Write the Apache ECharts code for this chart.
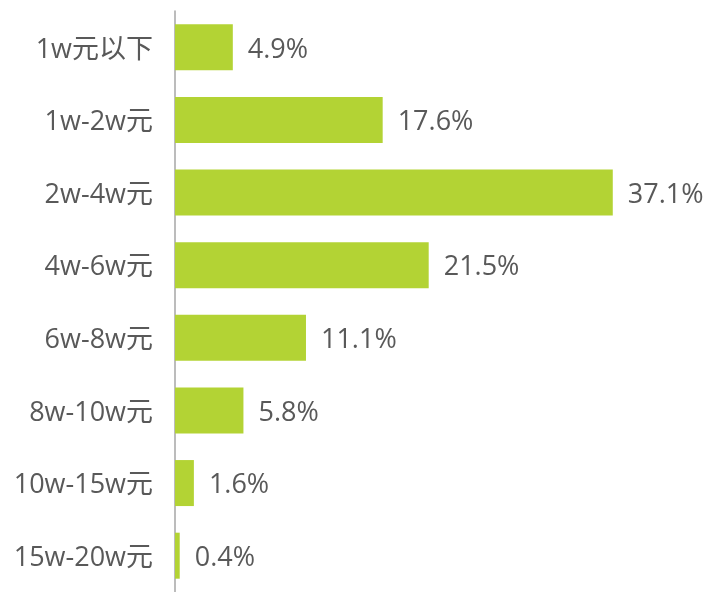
<!DOCTYPE html>
<html>
<head>
<meta charset="utf-8">
<script src="https://cdn.jsdelivr.net/npm/echarts@6/dist/echarts.min.js"></script>
<style>
  html, body { margin: 0; padding: 0; background: #fff; }
  #chart { width: 708px; height: 592px; }
</style>
</head>
<body>
<div id="chart"></div>
<script>
// 收入区间 (从上到下)
const categories = ['1w元以下', '1w-2w元', '2w-4w元', '4w-6w元', '6w-8w元', '8w-10w元', '10w-15w元', '15w-20w元'];
const shares = [4.9, 17.6, 37.1, 21.5, 11.1, 5.8, 1.6, 0.4];

const myChart = echarts.init(document.getElementById('chart'));
const font = "'Open Sans', 'Noto Sans CJK SC', sans-serif";
const txt = { color: '#595959', fontSize: 27, fontFamily: font, padding: [5, 0, 0, 0] };

const option = {
  animation: false,
  grid: { left: 175, top: 11, width: 531, height: 584 },
  xAxis: {
    type: 'value',
    min: 0,
    max: 45,
    show: false
  },
  yAxis: {
    type: 'category',
    inverse: true,
    data: categories,
    axisLine: { lineStyle: { color: '#a6a6a6', width: 1.5 } },
    axisTick: { show: false },
    axisLabel: {
      margin: 22,
      formatter: v => '{t|' + v + '}',
      rich: { t: txt }
    }
  },
  series: [{
    type: 'bar',
    data: shares,
    barWidth: 46,
    itemStyle: { color: '#b3d334' },
    label: {
      show: true,
      position: 'right',
      distance: 15,
      formatter: p => '{t|' + p.value.toFixed(1) + '%}',
      rich: { t: txt }
    }
  }]
};

myChart.setOption(option);
</script>
</body>
</html>
